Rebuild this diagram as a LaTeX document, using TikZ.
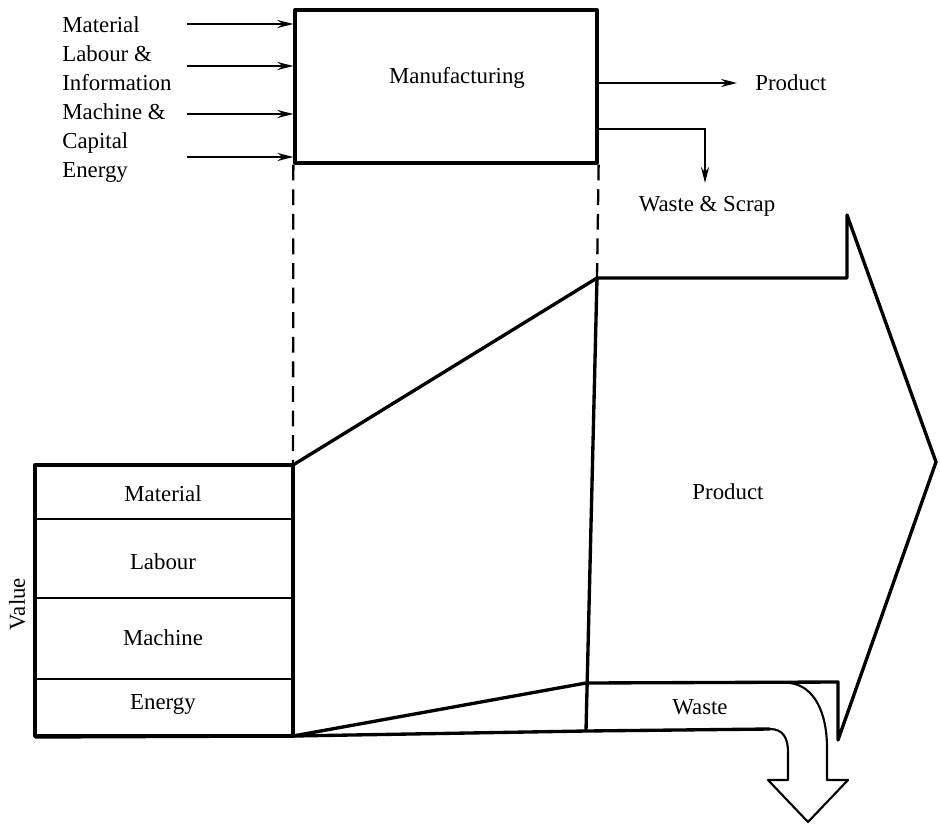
\documentclass[tikz,border=0pt]{standalone}
\usepackage{fontspec}
\setmainfont{Liberation Serif}
\usetikzlibrary{positioning,arrows.meta}

\begin{document}
\begin{tikzpicture}[x=0.02cm, y=-0.02cm, font=\fontsize{13}{16}\selectfont,
  outline/.style={line width=1.9pt, line join=round},
  divider/.style={line width=1.2pt},
  inarrow/.style={->, line width=1.4pt, >={Stealth[length=9pt,width=4.5pt]}},
  guide/.style={line width=1.3pt, dash pattern=on 9pt off 5pt}]
\useasboundingbox (0,0) rectangle (940,825);

% Manufacturing box
\node[draw, outline, minimum width=6.04cm, minimum height=3.06cm] (mfg) at (446,86.5) {};
\node (mfgtext) at (457,78) {Manufacturing};

% Inputs
\node[anchor=base west, inner sep=0pt] (lab1) at (62,32) {Material};
\node[anchor=base west, inner sep=0pt] (lab2) at (62,61) {Labour \&};
\node[anchor=base west, inner sep=0pt] (lab3) at (62,90) {Information};
\node[anchor=base west, inner sep=0pt] (lab4) at (62,119) {Machine \&};
\node[anchor=base west, inner sep=0pt] (lab5) at (62,148) {Capital};
\node[anchor=base west, inner sep=0pt] (lab6) at (62,177) {Energy};
\coordinate (in1) at (187,24);
\coordinate (in2) at (187,66);
\coordinate (in3) at (187,114);
\coordinate (in4) at (187,157);
\draw[inarrow] (in1) -- (in1 -| mfg.west);
\draw[inarrow] (in2) -- (in2 -| mfg.west);
\draw[inarrow] (in3) -- (in3 -| mfg.west);
\draw[inarrow] (in4) -- (in4 -| mfg.west);

% Outputs
\coordinate (prodend) at (737,83);
\node[anchor=west, inner sep=0pt] (prodout) at (755,83) {Product};
\draw[inarrow] (mfg.east |- prodend) -- (prodend);
\coordinate (wasteend) at (705,183);
\node[inner sep=0pt] (wastescrap) at (707,206) {Waste \& Scrap};
\draw[inarrow] (mfg.east |- 0,129) -| (wasteend);

% Value stack
\coordinate (vtl) at (35,465);
\coordinate (vtr) at (293,465);
\coordinate (vbl) at (35,737);
\coordinate (vbr) at (293,736);
\draw[outline] (vtl) rectangle (vbr);
\draw[divider] (35,519) -- (293,519);
\draw[divider] (35,598) -- (293,598);
\draw[divider] (35,679) -- (293,679);
\node (vmat) at (163,494) {Material};
\node (vlab) at (163,562) {Labour};
\node (vmac) at (163,638) {Machine};
\node (vene) at (163,704) {Energy};
\node[rotate=90] (value) at (17,604) {Value};

% Dashed guides
\coordinate (ptop) at (597,278);
\draw[guide] (mfg.south west) -- (vtr);
\draw[guide] (mfg.south east) -- (ptop);

% Product arrow
\draw[outline] (vtr) -- (ptop) -- (847,278) -- (847,215) -- (936,462)
  -- (838,740) -- (838,682) -- (586,683) -- (vbr);
\draw[outline] (ptop) -- (586,731);
\draw[outline] (vbl) -- (vbr) -- (586,731) -- (770,729);
\node (prodbig) at (728,492) {Product};

% Waste arrow
\draw[divider, line join=round] (770,729) .. controls (783,729) and (788,738) .. (788,752)
  -- (788,780) -- (768,780) -- (808,822) -- (848,780) -- (827,780) -- (827,748)
  .. controls (827,712) and (814,686) .. (790,683);
\node (wastelab) at (700,707) {Waste};

\end{tikzpicture}
\end{document}
